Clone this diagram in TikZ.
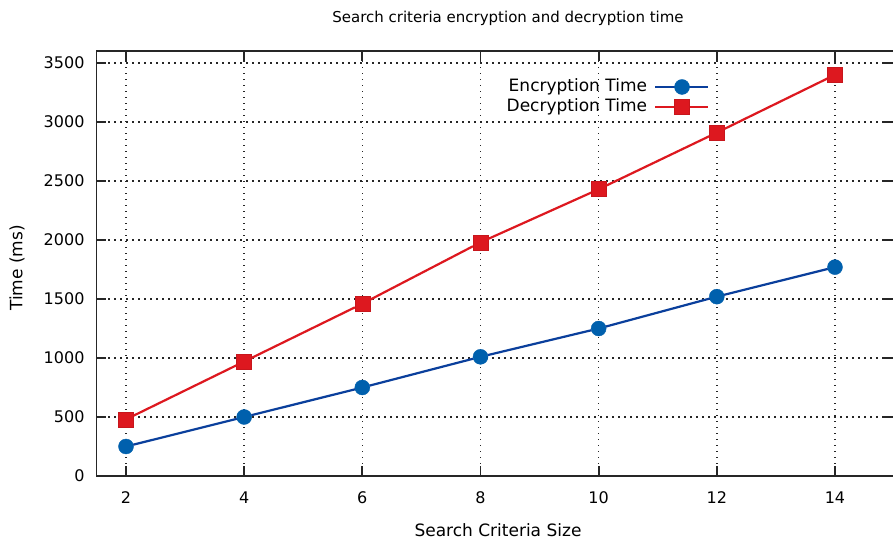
\documentclass[tikz,border=0pt]{standalone}
\usepackage{fontspec}
\setmainfont{DejaVu Sans}
\definecolor{encblue}{HTML}{0060AD}
\definecolor{encline}{HTML}{0A3F9C}
\definecolor{decred}{HTML}{DD181F}
\begin{document}
\begin{tikzpicture}[x=1pt,y=1pt,
  every node/.style={inner sep=0pt, outer sep=0pt},
  ticklab/.style={font=\fontsize{16}{16}\selectfont},
  axlab/.style={font=\fontsize{17}{17}\selectfont},
  gridline/.style={line width=1.4pt, dash pattern=on 1.4pt off 4.6pt, black!85},
  tickmark/.style={line width=1.8pt, black!85},
  frame/.style={line width=1.8pt, black!85},
  encmark/.style={circle, fill=encblue, draw=encblue, minimum size=15pt},
  decmark/.style={rectangle, fill=decred, draw=decred!90!black, line width=0.6pt, minimum size=15pt},
  encconn/.style={line width=2.2pt, encline},
  decconn/.style={line width=2.2pt, decred}]
\useasboundingbox (0,0) rectangle (893,540);
\fill[white] (0,0) rectangle (893,540);
\begin{scope}[shift={(7.84,64)}, x=59.08pt, y=0.118pt]
  % grid
  \foreach \v in {500,1000,...,3500}
    \draw[gridline] (1.5,\v) -- (15,\v);
  \foreach \u in {2,4,...,14}
    \draw[gridline] (\u,0) -- (\u,3600);
  % ticks
  \foreach \v in {500,1000,...,3500} {
    \draw[tickmark] (1.5,\v) -- ++(10pt,0);
    \draw[tickmark] (15,\v) -- ++(-10pt,0);
  }
  \foreach \u in {2,4,...,14} {
    \draw[tickmark] (\u,0) -- ++(0,10pt);
    \draw[tickmark] (\u,3600) -- ++(0,-10pt);
  }
  % frame
  \draw[frame] (1.5,0) rectangle (15,3600);
  % tick labels
  \foreach \v in {0,500,1000,...,3500}
    \node[ticklab, anchor=east] (yl\v) at ([xshift=-12pt]1.5,\v) {\v};
  \foreach \u in {2,4,...,14}
    \node[ticklab, anchor=center] (xl\u) at ([yshift=-22pt]\u,0) {\u};
  % data nodes
  \node[encmark] (e2) at (2,250) {};
  \node[encmark] (e4) at (4,500) {};
  \node[encmark] (e6) at (6,750) {};
  \node[encmark] (e8) at (8,1010) {};
  \node[encmark] (e10) at (10,1250) {};
  \node[encmark] (e12) at (12,1520) {};
  \node[encmark] (e14) at (14,1770) {};
  \node[decmark] (d2) at (2,480) {};
  \node[decmark] (d4) at (4,970) {};
  \node[decmark] (d6) at (6,1460) {};
  \node[decmark] (d8) at (8,1980) {};
  \node[decmark] (d10) at (10,2430) {};
  \node[decmark] (d12) at (12,2910) {};
  \node[decmark] (d14) at (14,3400) {};
  \draw[encconn] (e2) -- (e4) -- (e6) -- (e8) -- (e10) -- (e12) -- (e14);
  \draw[decconn] (d2) -- (d4) -- (d6) -- (d8) -- (d10) -- (d12) -- (d14);
\end{scope}
% legend
\node[axlab, anchor=east] (lenc) at (647,453) {Encryption Time};
\node[axlab, anchor=east] (ldec) at (647,433) {Decryption Time};
\coordinate (ea) at (655,453); \coordinate (eb) at (708,453);
\coordinate (da) at (655,433); \coordinate (db) at (708,433);
\draw[encconn] (ea) -- (eb);
\draw[decconn] (da) -- (db);
\node[encmark] (lem) at (682,453) {};
\node[decmark] (ldm) at (682,433) {};
% titles
\node[font=\fontsize{15}{15}\selectfont] (title) at (508,522) {Search criteria encryption and decryption time};
\node[axlab] (xlab) at (498,10) {Search Criteria Size};
\node[axlab, rotate=90] (ylab) at (17,272) {Time (ms)};
\end{tikzpicture}
\end{document}
